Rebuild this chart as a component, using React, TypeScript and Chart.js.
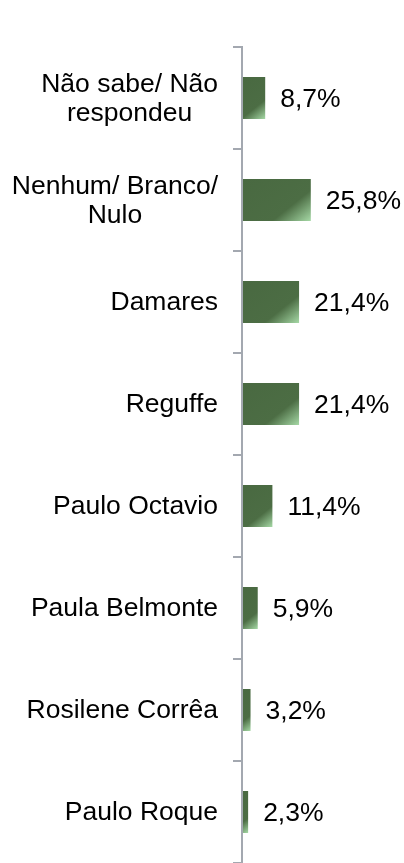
import React, { useEffect, useRef } from "react";
import { Chart, registerables } from "chart.js";

Chart.register(...registerables);

const categories: (string | string[])[] = [
  ["Não sabe/ Não", "respondeu"],
  ["Nenhum/ Branco/", "Nulo"],
  "Damares",
  "Reguffe",
  "Paulo Octavio",
  "Paula Belmonte",
  "Rosilene Corrêa",
  "Paulo Roque",
];
const values = [8.7, 25.8, 21.4, 21.4, 11.4, 5.9, 3.2, 2.3];
const valueLabels = ["8,7%", "25,8%", "21,4%", "21,4%", "11,4%", "5,9%", "3,2%", "2,3%"];

const FONT_SIZE = 26.5;
const LINE_H = 29.5;
const FONT = `${FONT_SIZE}px "Liberation Sans", Arial, sans-serif`;
const AXIS_COLOR = "#a3a8b0";
const CAT_PCT = 0.412;
const TICK_LEN = 9;
const LABEL_GAP = 24;

const labelPlugin = {
  id: "customLabels",
  afterDatasetsDraw(chart: any) {
    const ctx = chart.ctx;
    const ys = chart.scales.y;
    const xs = chart.scales.x;
    const right = chart.chartArea.left - LABEL_GAP;
    ctx.save();
    ctx.font = FONT;
    ctx.fillStyle = "#000";
    ctx.textBaseline = "middle";
    categories.forEach((cat, i) => {
      const lines = Array.isArray(cat) ? cat : [cat];
      const yc = ys.getPixelForValue(i);
      const w = Math.max(...lines.map((l) => ctx.measureText(l).width));
      ctx.textAlign = "center";
      lines.forEach((l, j) => {
        ctx.fillText(l, right - w / 2, yc + 1 + (j - (lines.length - 1) / 2) * LINE_H);
      });
      ctx.textAlign = "left";
      ctx.fillText(valueLabels[i], xs.getPixelForValue(values[i]) + 15, yc + 1.5);
    });
    ctx.restore();
  },
};

function barGradient(context: any) {
  const chart = context.chart;
  const dark = "#4a6a42";
  if (!chart.chartArea || context.dataIndex === undefined) return dark;
  const xs = chart.scales.x;
  const ys = chart.scales.y;
  if (!xs || !ys) return dark;
  const i = context.dataIndex;
  const x0 = xs.getPixelForValue(0);
  const x1 = xs.getPixelForValue(values[i]);
  const h = (ys.height / categories.length) * CAT_PCT;
  const top = ys.getPixelForValue(i) - h / 2;
  const w = x1 - x0;
  const dx = 0.625;
  const dy = 0.781;
  const L = dx * w + dy * h;
  const g = chart.ctx.createLinearGradient(x0, top, x0 + dx * L, top + dy * L);
  g.addColorStop(0, "#496941");
  g.addColorStop(0.68, "#4c6d44");
  g.addColorStop(1, "#a6d9a6");
  return g;
}

export default function App() {
  const ref = useRef<HTMLCanvasElement>(null);
  useEffect(() => {
    document.body.style.margin = "0";
    const chart = new Chart(ref.current!, {
      type: "bar",
      data: {
        labels: categories as any,
        datasets: [
          {
            data: values,
            backgroundColor: barGradient as any,
            borderWidth: 0,
            categoryPercentage: CAT_PCT,
            barPercentage: 1,
          },
        ],
      },
      options: {
        indexAxis: "y",
        animation: false,
        responsive: true,
        maintainAspectRatio: false,
        layout: { padding: { top: 47, bottom: 0, left: 0, right: 2 } },
        plugins: {
          legend: { display: false },
          tooltip: { enabled: false },
        },
        scales: {
          x: { display: false, min: 0, max: 60 },
          y: {
            afterFit: (scale: any) => {
              scale.width = 242;
            },
            ticks: { display: false },
            grid: {
              drawOnChartArea: false,
              drawTicks: true,
              tickLength: TICK_LEN,
              color: AXIS_COLOR,
              lineWidth: 2,
              offset: true,
            },
            border: { display: true, color: AXIS_COLOR, width: 2, z: 1 },
          },
        },
      },
      plugins: [labelPlugin],
    });
    return () => chart.destroy();
  }, []);
  return (
    <div style={{ width: 404, height: 863, position: "relative", background: "#fff" }}>
      <canvas ref={ref} />
    </div>
  );
}
